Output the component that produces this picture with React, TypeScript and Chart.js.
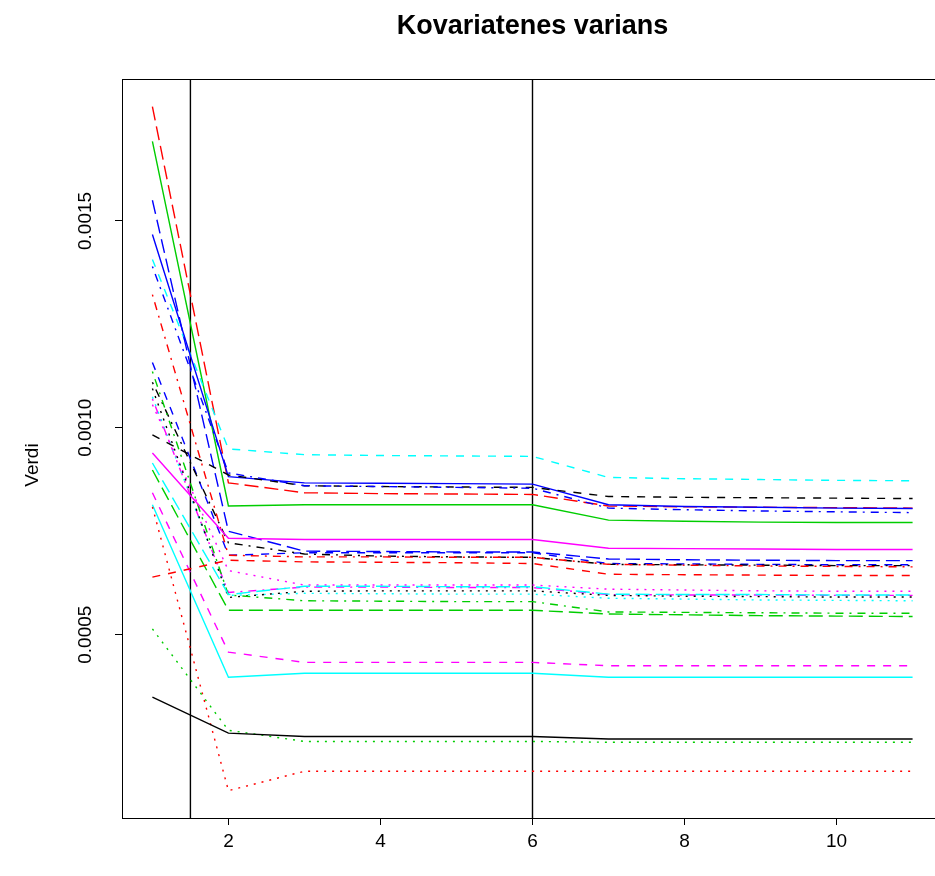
import { useEffect, useRef } from "react";
import { Chart, registerables } from "chart.js";

Chart.register(...registerables);

// Period index (x) and the covariate variances (in units of 1e-4) per series
const periods = [1, 2, 3, 4, 5, 6, 7, 8, 9, 10, 11];
const UNIT = 1e-4;

const v01 = [3.49, 2.62, 2.54, 2.54, 2.54, 2.54, 2.48, 2.48, 2.48, 2.48, 2.48];
const v02 = [6.39, 6.8, 6.76, 6.75, 6.74, 6.72, 6.46, 6.45, 6.44, 6.43, 6.43];
const v03 = [5.14, 2.69, 2.42, 2.42, 2.42, 2.42, 2.4, 2.4, 2.4, 2.4, 2.4];
const v04 = [13.9, 8.91, 8.6, 8.58, 8.56, 8.54, 8.06, 8.02, 7.99, 7.97, 7.95];
const v05 = [9.15, 5.97, 6.17, 6.17, 6.16, 6.16, 5.98, 5.97, 5.97, 5.96, 5.96];
const v06 = [9.39, 7.33, 7.3, 7.3, 7.3, 7.3, 7.09, 7.08, 7.07, 7.06, 7.06];
const v07 = [9.83, 8.86, 8.6, 8.58, 8.57, 8.56, 8.34, 8.32, 8.31, 8.3, 8.29];
const v08 = [8.09, 1.23, 1.7, 1.7, 1.7, 1.7, 1.7, 1.7, 1.7, 1.7, 1.7];
const v09 = [11.36, 5.96, 5.82, 5.81, 5.8, 5.8, 5.55, 5.54, 5.53, 5.52, 5.52];
const v10 = [15.5, 7.5, 7.02, 7.01, 7.0, 7.0, 6.83, 6.81, 6.8, 6.79, 6.79];
const v11 = [8.14, 3.97, 4.07, 4.07, 4.07, 4.07, 3.97, 3.97, 3.97, 3.97, 3.97];
const v12 = [8.43, 4.58, 4.33, 4.33, 4.33, 4.33, 4.25, 4.25, 4.25, 4.25, 4.25];
const v13 = [10.95, 5.9, 6.05, 6.06, 6.06, 6.06, 5.95, 5.93, 5.92, 5.91, 5.91];
const v14 = [13.22, 6.92, 6.88, 6.88, 6.87, 6.87, 6.7, 6.68, 6.66, 6.65, 6.64];
const v15 = [8.98, 5.59, 5.59, 5.59, 5.59, 5.59, 5.5, 5.48, 5.46, 5.45, 5.44];
const v16 = [14.67, 8.82, 8.67, 8.66, 8.65, 8.64, 8.14, 8.1, 8.08, 8.06, 8.05];
const v17 = [14.07, 9.49, 9.35, 9.33, 9.32, 9.31, 8.8, 8.77, 8.75, 8.73, 8.72];
const v18 = [10.56, 6.55, 6.2, 6.2, 6.2, 6.2, 6.1, 6.08, 6.06, 6.05, 6.05];
const v19 = [11.1, 7.22, 6.95, 6.9, 6.88, 6.87, 6.7, 6.69, 6.68, 6.67, 6.67];
const v20 = [17.76, 8.67, 8.43, 8.41, 8.4, 8.39, 8.11, 8.09, 8.08, 8.07, 8.06];
const v21 = [16.92, 8.11, 8.14, 8.14, 8.14, 8.14, 7.77, 7.74, 7.72, 7.71, 7.71];
const v22 = [11.58, 6.92, 6.98, 6.98, 6.98, 6.98, 6.72, 6.71, 6.7, 6.69, 6.69];
const v23 = [10.75, 5.95, 6.0, 5.99, 5.98, 5.98, 5.88, 5.86, 5.84, 5.83, 5.82];
const v24 = [10.7, 6.02, 6.15, 6.15, 6.14, 6.14, 5.97, 5.96, 5.96, 5.95, 5.95];

const seriesValues = [
  v01, v02, v03, v04, v05, v06, v07, v08, v09, v10, v11, v12,
  v13, v14, v15, v16, v17, v18, v19, v20, v21, v22, v23, v24,
];

// Vertical reference lines
const markerLines = [1.5, 6];

const xTicks = [2, 4, 6, 8, 10];
const yTicks = [0.0005, 0.001, 0.0015];
const yTickLabels = ["0.0005", "0.0010", "0.0015"];

const TITLE = "Kovariatenes varians";
const Y_TITLE = "Verdi";

// Colour and line-type cycles
const palette = ["#000000", "#FF0000", "#00CD00", "#0000FF", "#00FFFF", "#FF00FF"];
const lineTypes: number[][] = [[], [8, 8], [2, 6], [2, 6, 8, 6], [14, 6]];

const FONT = "'Liberation Sans', Arial, Helvetica, sans-serif";
const Y_MIN = 0.000057;
const Y_MAX = 0.001843;

const frame = {
  id: "frame",
  afterDraw(chart: any) {
    const { ctx, chartArea, scales } = chart;
    const { left, top, right, bottom } = chartArea;
    ctx.save();
    ctx.strokeStyle = "#000";
    ctx.lineWidth = 1;
    ctx.strokeRect(Math.round(left) + 0.5, Math.round(top) + 0.5, Math.round(right - left), Math.round(bottom - top));

    // rotated y tick labels
    ctx.fillStyle = "#000";
    ctx.font = `19px ${FONT}`;
    ctx.textAlign = "center";
    ctx.textBaseline = "middle";
    yTicks.forEach((v, i) => {
      const py = scales.y.getPixelForValue(v);
      ctx.save();
      ctx.translate(86, py);
      ctx.rotate(-Math.PI / 2);
      ctx.fillText(yTickLabels[i], 0, 0);
      ctx.restore();
    });

    // y axis title
    ctx.save();
    ctx.translate(33, 465);
    ctx.rotate(-Math.PI / 2);
    ctx.fillText(Y_TITLE, 0, 0);
    ctx.restore();

    // main title, centred on the plot region
    ctx.font = `bold 27px ${FONT}`;
    ctx.fillText(TITLE, (left + right) / 2, 27);
    ctx.restore();
  },
};

export default function App() {
  const ref = useRef<HTMLCanvasElement | null>(null);

  useEffect(() => {
    if (!ref.current) return;
    const datasets: any[] = seriesValues.map((vals, i) => ({
      label: `S${i + 1}`,
      data: vals.map((v, j) => ({ x: periods[j], y: v * UNIT })),
      borderColor: palette[i % palette.length],
      borderDash: lineTypes[i % lineTypes.length],
      borderWidth: 1.4,
      borderCapStyle: "butt",
      pointRadius: 0,
      fill: false,
      tension: 0,
    }));
    markerLines.forEach((m) => {
      datasets.push({
        label: `v${m}`,
        data: [
          { x: m, y: Y_MIN },
          { x: m, y: Y_MAX },
        ],
        borderColor: "#000000",
        borderWidth: 1.4,
        pointRadius: 0,
        fill: false,
      });
    });

    const chart = new Chart(ref.current, {
      type: "line",
      data: { datasets },
      plugins: [frame],
      options: {
        responsive: false,
        animation: false,
        layout: { padding: { top: 79, right: 0, left: 0, bottom: 0 } },
        plugins: { legend: { display: false }, tooltip: { enabled: false }, title: { display: false } },
        scales: {
          x: {
            type: "linear",
            min: 0.6,
            max: 11.4,
            afterBuildTicks: (s: any) => {
              s.ticks = xTicks.map((value) => ({ value }));
            },
            afterFit: (s: any) => {
              s.height = 58;
            },
            border: { display: false },
            grid: { drawOnChartArea: false, drawTicks: true, tickLength: 7, color: "#000", lineWidth: 1 },
            ticks: {
              color: "#000",
              font: { family: FONT, size: 19 },
              padding: 5,
              maxRotation: 0,
              autoSkip: false,
              callback: (v: any) => String(v),
            },
          },
          y: {
            type: "linear",
            min: Y_MIN,
            max: Y_MAX,
            afterBuildTicks: (s: any) => {
              s.ticks = yTicks.map((value) => ({ value }));
            },
            afterFit: (s: any) => {
              s.width = 122;
            },
            border: { display: false },
            grid: { drawOnChartArea: false, drawTicks: true, tickLength: 7, color: "#000", lineWidth: 1 },
            ticks: { display: false },
          },
        },
      },
    });
    return () => chart.destroy();
  }, []);

  return (
    <div
      style={{
        position: "fixed",
        left: 0,
        top: 0,
        width: 935,
        height: 876,
        overflow: "hidden",
        background: "#fff",
      }}
    >
      <canvas ref={ref} width={943} height={876} style={{ width: 943, height: 876, display: "block" }} />
    </div>
  );
}
